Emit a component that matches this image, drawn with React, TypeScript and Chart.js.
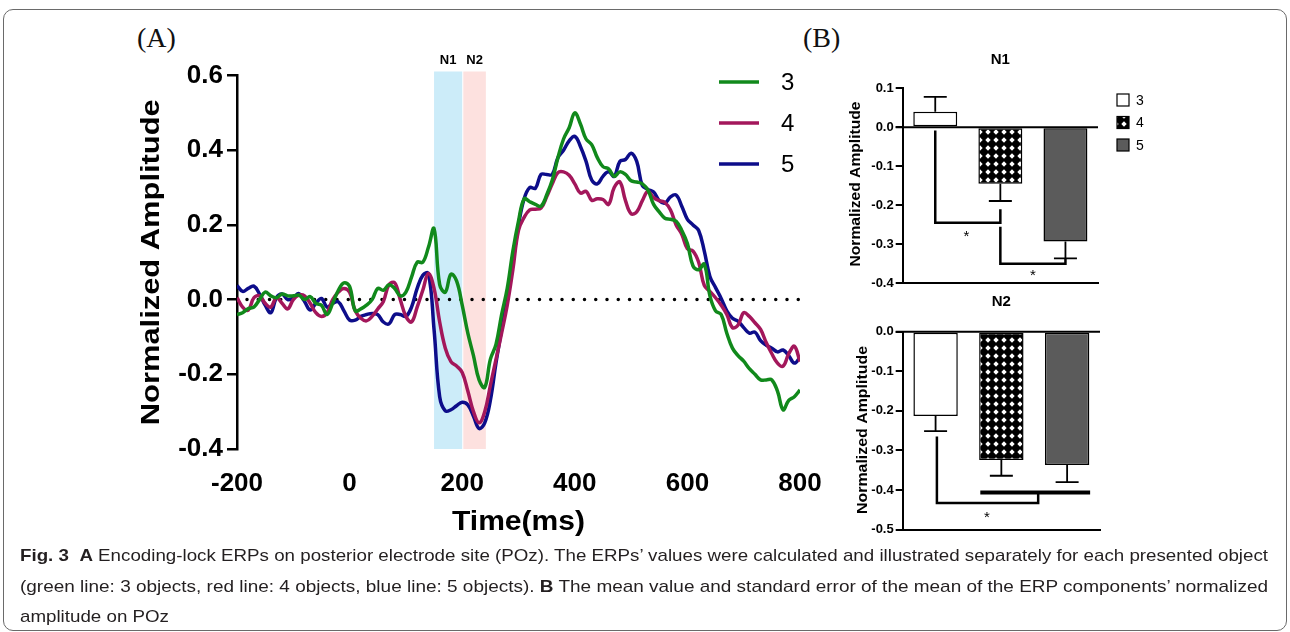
import React, { useEffect, useLayoutEffect, useRef } from 'react';
import { Chart, registerables } from 'chart.js';
Chart.register(...registerables);

const SANS = '"Liberation Sans", Arial, Helvetica, sans-serif';

// ---------- Panel A data ----------
const timeMs = [
  -200, -190, -180, -170, -160, -150, -140, -130, -120, -110,
  -100, -90, -80, -70, -60, -50, -40, -30, -20, -10,
  0, 10, 20, 30, 40, 50, 60, 70, 80, 90,
  100, 110, 120, 130, 140, 150, 160, 170, 180, 190,
  200, 210, 220, 230, 240, 250, 260, 270, 280, 290,
  300, 310, 320, 330, 340, 350, 360, 370, 380, 390,
  400, 410, 420, 430, 440, 450, 460, 470, 480, 490,
  500, 510, 520, 530, 540, 550, 560, 570, 580, 590,
  600, 610, 620, 630, 640, 650, 660, 670, 680, 690,
  700, 710, 720, 730, 740, 750, 760, 770, 780, 790,
  800,
];
const amp3 = [
  -0.04, -0.035, -0.024, -0.02, 0.0, 0.02, 0.01, 0.005, 0.015, 0.01,
  0.01, 0.012, 0.0, 0.008, -0.01, -0.015, -0.04, -0.01, 0.025, 0.045,
  0.035, -0.03, -0.025, -0.015, 0.0, 0.03, 0.025, 0.04, 0.03, 0.01,
  0.02, 0.06, 0.1, 0.1, 0.14, 0.19, 0.04, 0.02, 0.068, 0.05,
  -0.015, -0.09, -0.15, -0.215, -0.235, -0.16, -0.12, -0.04, 0.03, 0.13,
  0.21, 0.27, 0.262, 0.255, 0.25, 0.28, 0.32, 0.38, 0.43, 0.46,
  0.5, 0.47, 0.43, 0.415, 0.38, 0.356, 0.35, 0.33, 0.342, 0.335,
  0.318, 0.315, 0.31, 0.293, 0.255, 0.235, 0.218, 0.215, 0.21, 0.185,
  0.15, 0.09, 0.08, 0.095, 0.01, -0.03, -0.04, -0.09, -0.13, -0.15,
  -0.165, -0.185, -0.2, -0.215, -0.215, -0.215, -0.245, -0.295, -0.27, -0.26,
  -0.242,
];
const amp4 = [
  0.005, -0.02, -0.028, 0.005, 0.01, -0.01, -0.02, 0.005, -0.01, -0.025,
  0.0, 0.012, 0.01, -0.01, -0.035, -0.045, -0.035, 0.0, 0.02, 0.03,
  0.02, -0.03, -0.05, -0.057, -0.045, -0.025, -0.005, 0.04, 0.045, 0.0,
  -0.045, -0.06, -0.02, 0.025, 0.07, 0.03, -0.06, -0.13, -0.166, -0.178,
  -0.195, -0.245, -0.3, -0.33, -0.3, -0.23, -0.16, -0.09, -0.015, 0.08,
  0.185, 0.22, 0.24, 0.242, 0.245, 0.275, 0.31, 0.34, 0.342, 0.333,
  0.31, 0.285, 0.29, 0.266, 0.27, 0.268, 0.255, 0.3, 0.315, 0.265,
  0.23, 0.235, 0.265, 0.29, 0.273, 0.265, 0.26, 0.24, 0.2, 0.175,
  0.136, 0.13, 0.1, 0.038, 0.022, 0.005, -0.015, -0.04, -0.075, -0.068,
  -0.035, -0.045, -0.062, -0.08, -0.115, -0.145, -0.17, -0.178, -0.145, -0.125,
  -0.166,
];
const amp5 = [
  0.038, 0.022, 0.03, 0.036, 0.015, -0.015, -0.035, 0.005, 0.015, 0.0,
  0.005, 0.016, -0.005, -0.028, -0.01, 0.003, -0.02, -0.01, -0.006, -0.03,
  -0.055, -0.055, -0.045, -0.04, -0.037, -0.04, -0.06, -0.065, -0.04, -0.04,
  -0.045, -0.02, 0.03, 0.065, 0.07, -0.08, -0.26, -0.298, -0.295, -0.284,
  -0.275, -0.282, -0.312, -0.345, -0.33, -0.27, -0.17, -0.08, 0.003, 0.1,
  0.2, 0.27, 0.3, 0.298, 0.335, 0.335, 0.335, 0.38, 0.4, 0.425,
  0.437, 0.41, 0.37, 0.32, 0.31, 0.33, 0.342, 0.33, 0.37, 0.375,
  0.392, 0.37, 0.305, 0.295, 0.288, 0.265, 0.258, 0.275, 0.28, 0.25,
  0.215, 0.2, 0.185, 0.13, 0.062, 0.032, 0.003, -0.03, -0.05, -0.058,
  -0.075, -0.09, -0.087, -0.11, -0.122, -0.13, -0.14, -0.135, -0.15, -0.17,
  -0.155,
];
const seriesLabels = ['3', '4', '5'];
const bandLabels = ['N1', 'N2'];
const bandStart = [150, 202];
const bandEnd = [200, 242];

// ---------- Panel B data ----------
const barCategories = ['3', '4', '5'];
const n1Means = [0.04, -0.145, -0.293];
const n1Sem = [0.038, 0.044, 0.043];
const n2Means = [-0.213, -0.324, -0.337];
const n2Sem = [0.038, 0.04, 0.043];
// brackets: [fromCategory, toCategory, fromTop, toTop, level]
const n1Brackets = [
  [0, 1, -0.008, -0.21, -0.245],
  [1, 2, -0.255, -0.336, -0.35],
];
const n1Stars = [
  [0.48, -0.27],
  [1.5, -0.37],
];
const n2Brackets = [[0.02, 1.56, -0.265, -0.408, -0.433]];
const n2GroupLines = [[0.68, 2.35, -0.406]];
const n2Stars = [[0.78, -0.459]];

const GREEN = '#11891b';
const RED = '#a3175b';
const BLUE = '#0d0d8a';
const lineColors = [GREEN, RED, BLUE];

const captionLines: [string, boolean][][] = [
  [
    ['Fig. 3', true],
    ['  ', false],
    ['A', true],
    [' Encoding-lock ERPs on posterior electrode site (POz). The ERPs\u2019 values were calculated and illustrated separately for each presented object', false],
  ],
  [
    ['(green line: 3 objects, red line: 4 objects, blue line: 5 objects). ', false],
    ['B', true],
    [' The mean value and standard error of the mean of the ERP components\u2019 normalized', false],
  ],
  [['amplitude on POz', false]],
];
const captionTargets = [1248, 1248, 0];
const captionTops = [545, 576, 606];

function drawFit(ctx: CanvasRenderingContext2D, text: string, cx: number, cy: number, font: string, len: number, vertical: boolean) {
  ctx.save();
  ctx.font = font;
  const w = ctx.measureText(text).width;
  ctx.translate(cx, cy);
  if (vertical) ctx.rotate(-Math.PI / 2);
  ctx.scale(len / w, 1);
  ctx.textAlign = 'center';
  ctx.textBaseline = 'middle';
  ctx.fillStyle = '#000';
  ctx.fillText(text, 0, 0);
  ctx.restore();
}

function makePattern(): CanvasPattern | string {
  const c = document.createElement('canvas');
  c.width = 8;
  c.height = 8;
  const g = c.getContext('2d');
  if (!g) return '#222';
  g.fillStyle = '#000';
  g.fillRect(0, 0, 8, 8);
  g.fillStyle = '#fff';
  g.beginPath();
  g.moveTo(4, 1.3);
  g.lineTo(6.7, 4);
  g.lineTo(4, 6.7);
  g.lineTo(1.3, 4);
  g.closePath();
  g.fill();
  return g.createPattern(c, 'repeat') || '#222';
}

const fmt = (v: any) => {
  const n = Number(v);
  return (Math.abs(n) < 1e-9 ? 0 : n).toFixed(1);
};

function Caption() {
  const refs = useRef<(HTMLSpanElement | null)[]>([]);
  useLayoutEffect(() => {
    const fit = () => {
      let s0 = 1;
      refs.current.forEach((el, i) => {
        if (!el) return;
        el.style.transform = 'none';
        const w = el.getBoundingClientRect().width;
        const t = captionTargets[i];
        const s = t ? t / w : s0;
        if (i === 0) s0 = s;
        el.style.transform = `scaleX(${s})`;
      });
    };
    fit();
    const f: any = (document as any).fonts;
    if (f && f.ready) f.ready.then(fit);
  }, []);
  return (
    <>
      {captionLines.map((line, i) => (
        <div key={i} style={{ position: 'absolute', left: 20, top: captionTops[i], whiteSpace: 'pre', fontFamily: SANS, fontSize: 17, lineHeight: '22px', color: '#231f20' }}>
          <span ref={(el) => { refs.current[i] = el; }} style={{ display: 'inline-block', transformOrigin: 'left center' }}>
            {line.map(([t, b], j) => (
              <span key={j} style={{ fontWeight: b ? 'bold' : 'normal' }}>{t}</span>
            ))}
          </span>
        </div>
      ))}
    </>
  );
}

export default function App() {
  const aRef = useRef<HTMLCanvasElement>(null);
  const b1Ref = useRef<HTMLCanvasElement>(null);
  const b2Ref = useRef<HTMLCanvasElement>(null);

  useEffect(() => {
    const charts: Chart[] = [];
    const pattern = makePattern();
    const barFills: any[] = ['#ffffff', pattern, '#5b5b5b'];

    // ---------- Panel A ----------
    const erpDecor = {
      id: 'erpDecor',
      beforeDatasetsDraw(chart: any) {
        const { ctx, chartArea, scales } = chart;
        const x = scales.x, y = scales.y;
        const bandColors = ['#ccecf9', '#fde1df'];
        ctx.save();
        bandLabels.forEach((lab, i) => {
          const x0 = x.getPixelForValue(bandStart[i]);
          const x1 = x.getPixelForValue(bandEnd[i]);
          ctx.fillStyle = bandColors[i];
          ctx.fillRect(x0, chartArea.top - 4, x1 - x0, chartArea.bottom - chartArea.top + 4);
          ctx.fillStyle = '#000';
          ctx.font = `bold 13px ${SANS}`;
          ctx.textAlign = 'center';
          ctx.textBaseline = 'middle';
          ctx.fillText(lab, (x0 + x1) / 2, chartArea.top - 15);
        });
        const y0 = y.getPixelForValue(0);
        ctx.strokeStyle = '#000';
        ctx.lineWidth = 3.5;
        ctx.lineCap = 'round';
        ctx.setLineDash([0, 11.25]);
        ctx.beginPath();
        ctx.moveTo(chartArea.left + 10, y0);
        ctx.lineTo(chartArea.right, y0);
        ctx.stroke();
        ctx.restore();
      },
      afterDraw(chart: any) {
        const { ctx, chartArea } = chart;
        ctx.save();
        seriesLabels.forEach((lab, i) => {
          const yy = 82 + i * 41;
          ctx.strokeStyle = lineColors[i];
          ctx.lineWidth = 3.5;
          ctx.beginPath();
          ctx.moveTo(719, yy);
          ctx.lineTo(759, yy);
          ctx.stroke();
          ctx.fillStyle = '#000';
          ctx.font = `24px ${SANS}`;
          ctx.textAlign = 'left';
          ctx.textBaseline = 'middle';
          ctx.fillText(lab, 781, yy + 1);
        });
        ctx.restore();
        drawFit(ctx, 'Time(ms)', (chartArea.left + chartArea.right) / 2, 522, `bold 28px ${SANS}`, 133, false);
        drawFit(ctx, 'Normalized Amplitude', 152, (chartArea.top + chartArea.bottom) / 2, `bold 26px ${SANS}`, 326, true);
      },
    };

    if (aRef.current) {
      const series = [amp3, amp4, amp5];
      charts.push(new Chart(aRef.current, {
        type: 'line',
        data: {
          datasets: series.map((s, k) => ({
            label: seriesLabels[k],
            data: timeMs.map((t, i) => ({ x: t, y: s[i] })),
            borderColor: lineColors[k],
            borderWidth: 3.5,
            pointRadius: 0,
            tension: 0.4,
            fill: false,
          })),
        },
        options: {
          responsive: false,
          animation: false,
          devicePixelRatio: 1,
          layout: { padding: { left: 137, right: 490, top: 75.5, bottom: 123 } },
          plugins: { legend: { display: false }, tooltip: { enabled: false } },
          scales: {
            x: {
              type: 'linear', min: -200, max: 800,
              ticks: { stepSize: 200, color: '#000', font: { family: SANS, size: 26, weight: 'bold' }, padding: 11, maxRotation: 0 },
              grid: { display: false },
              border: { display: false },
              afterFit: (s: any) => { s.height = 60; },
            },
            y: {
              min: -0.4, max: 0.6,
              ticks: { stepSize: 0.2, callback: fmt, color: '#000', font: { family: SANS, size: 26, weight: 'bold' }, padding: 4 },
              grid: { display: true, drawOnChartArea: false, drawTicks: true, tickLength: 10, color: '#000', lineWidth: 2.5 },
              border: { display: true, color: '#000', width: 2.5 },
              afterFit: (s: any) => { s.width = 100; },
            },
          },
        } as any,
        plugins: [erpDecor],
      }));
    }

    // ---------- Panel B ----------
    const makeBar = (canvas: HTMLCanvasElement, means: number[], sems: number[], brackets: number[][], groups: number[][], stars: number[][], cfg: any) => {
      const decor = {
        id: 'barDecor',
        beforeDatasetsDraw(chart: any) {
          const { ctx, chartArea, scales } = chart;
          const y0 = scales.y.getPixelForValue(0);
          ctx.save();
          ctx.strokeStyle = '#000';
          ctx.lineWidth = 2;
          ctx.beginPath();
          ctx.moveTo(chartArea.left - 7, y0);
          ctx.lineTo(chartArea.right, y0);
          ctx.stroke();
          ctx.restore();
        },
        afterDatasetsDraw(chart: any) {
          const { ctx, scales } = chart;
          const x = scales.x, y = scales.y;
          const meta = chart.getDatasetMeta(0);
          ctx.save();
          ctx.strokeStyle = '#000';
          ctx.lineWidth = 1.8;
          means.forEach((m, i) => {
            const bx = meta.data[i].x;
            const ya = y.getPixelForValue(m);
            const yb = y.getPixelForValue(m + (m >= 0 ? sems[i] : -sems[i]));
            ctx.beginPath();
            ctx.moveTo(bx, ya);
            ctx.lineTo(bx, yb);
            ctx.moveTo(bx - 11.5, yb);
            ctx.lineTo(bx + 11.5, yb);
            ctx.stroke();
          });
          ctx.lineWidth = 2.5;
          ctx.lineJoin = 'miter';
          brackets.forEach(([a, b, ta, tb, lv]) => {
            const xa = x.getPixelForValue(a), xb = x.getPixelForValue(b);
            ctx.beginPath();
            ctx.moveTo(xa, y.getPixelForValue(ta));
            ctx.lineTo(xa, y.getPixelForValue(lv));
            ctx.lineTo(xb, y.getPixelForValue(lv));
            ctx.lineTo(xb, y.getPixelForValue(tb));
            ctx.stroke();
          });
          ctx.lineWidth = 4;
          groups.forEach(([a, b, lv]) => {
            ctx.beginPath();
            ctx.moveTo(x.getPixelForValue(a), y.getPixelForValue(lv));
            ctx.lineTo(x.getPixelForValue(b), y.getPixelForValue(lv));
            ctx.stroke();
          });
          ctx.fillStyle = '#000';
          ctx.font = `15px ${SANS}`;
          ctx.textAlign = 'center';
          ctx.textBaseline = 'alphabetic';
          stars.forEach(([cx, cy]) => {
            ctx.fillText('*', x.getPixelForValue(cx), y.getPixelForValue(cy) + 8.5);
          });
          ctx.restore();
        },
        afterDraw(chart: any) {
          const { ctx, chartArea } = chart;
          ctx.save();
          ctx.fillStyle = '#000';
          ctx.font = `bold 15px ${SANS}`;
          ctx.textAlign = 'center';
          ctx.textBaseline = 'middle';
          ctx.fillText(cfg.title, (chartArea.left + chartArea.right) / 2, cfg.titleY);
          ctx.restore();
          drawFit(ctx, 'Normalized Amplitude', cfg.yTitleX, cfg.yTitleY, `bold 14px ${SANS}`, cfg.yTitleLen, true);
          if (cfg.legend) {
            ctx.save();
            barCategories.forEach((lab, i) => {
              const cy = 100 + i * 22.5;
              ctx.fillStyle = barFills[i];
              ctx.fillRect(1117, cy - 6, 12, 12);
              ctx.strokeStyle = '#000';
              ctx.lineWidth = 1.2;
              ctx.strokeRect(1117, cy - 6, 12, 12);
              ctx.fillStyle = '#000';
              ctx.font = `14px ${SANS}`;
              ctx.textAlign = 'left';
              ctx.textBaseline = 'middle';
              ctx.fillText(lab, 1136, cy + 1);
            });
            ctx.restore();
          }
        },
      };
      return new Chart(canvas, {
        type: 'bar',
        data: {
          labels: barCategories,
          datasets: [{
            data: means,
            backgroundColor: barFills,
            borderColor: '#000',
            borderWidth: 1.5,
            borderSkipped: false,
            categoryPercentage: 0.75,
            barPercentage: 0.9,
          }],
        },
        options: {
          responsive: false,
          animation: false,
          devicePixelRatio: 1,
          layout: { padding: cfg.padding },
          plugins: { legend: { display: false }, tooltip: { enabled: false } },
          scales: {
            x: {
              type: 'category',
              ticks: { display: false },
              grid: { display: false },
              border: { display: true, color: '#000', width: 2 },
              afterFit: (s: any) => { s.height = 0; },
            },
            y: {
              min: cfg.min, max: cfg.max,
              ticks: { stepSize: 0.1, callback: fmt, color: '#000', font: { family: SANS, size: 13, weight: 'bold' }, padding: 2 },
              grid: { display: true, drawOnChartArea: false, drawTicks: true, tickLength: 7, color: '#000', lineWidth: 2 },
              border: { display: true, color: '#000', width: 2 },
              afterFit: (s: any) => { s.width = 60; },
            },
          },
        } as any,
        plugins: [decor],
      });
    };

    if (b1Ref.current) {
      charts.push(makeBar(b1Ref.current, n1Means, n1Sem, n1Brackets, [], n1Stars, {
        title: 'N1', titleY: 60, min: -0.4, max: 0.1,
        padding: { left: 842.7, right: 192, top: 88.3, bottom: 348.7 },
        yTitleX: 856, yTitleY: 184, yTitleLen: 165, legend: true,
      }));
    }
    if (b2Ref.current) {
      charts.push(makeBar(b2Ref.current, n2Means, n2Sem, n2Brackets, n2GroupLines, n2Stars, {
        title: 'N2', titleY: 302, min: -0.5, max: 0.0,
        padding: { left: 842.7, right: 190, top: 331.7, bottom: 102.4 },
        yTitleX: 863, yTitleY: 430, yTitleLen: 168, legend: false,
      }));
    }

    return () => { charts.forEach((c) => c.destroy()); };
  }, []);

  const canvasStyle: React.CSSProperties = { position: 'absolute', left: 0, top: 0, width: 1290, height: 632 };
  return (
    <div style={{ position: 'absolute', left: 0, top: 0, width: 1290, height: 632, background: '#fff', overflow: 'hidden' }}>
      <div style={{ position: 'absolute', left: 3, top: 9, width: 1282, height: 620, border: '1px solid #6a6a6a', borderRadius: 10 }} />
      <div style={{ position: 'absolute', left: 137, top: 20, fontFamily: '"Liberation Serif", "Times New Roman", serif', fontSize: 28, lineHeight: '36px', color: '#111' }}>(A)</div>
      <div style={{ position: 'absolute', left: 803, top: 20, fontFamily: '"Liberation Serif", "Times New Roman", serif', fontSize: 28, lineHeight: '36px', color: '#111' }}>(B)</div>
      <canvas ref={aRef} width={1290} height={632} style={canvasStyle} />
      <canvas ref={b1Ref} width={1290} height={632} style={canvasStyle} />
      <canvas ref={b2Ref} width={1290} height={632} style={canvasStyle} />
      <Caption />
    </div>
  );
}
